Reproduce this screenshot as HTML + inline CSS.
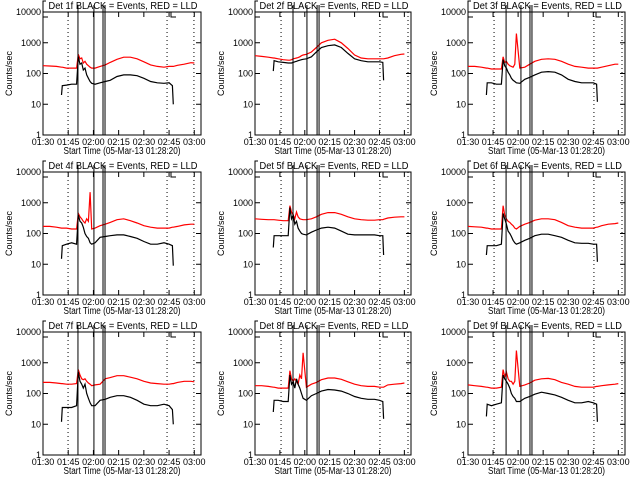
<!DOCTYPE html>
<html><head><meta charset="utf-8"><style>
html,body{margin:0;padding:0;background:#fff;}
svg{display:block;font-family:"Liberation Sans",sans-serif;}
</style></head><body>
<svg id="c" width="640" height="480" xmlns="http://www.w3.org/2000/svg"></svg>
<script>
const times=[0,4,8,11,11.5,14,17,20,21,22,23,24,25,26,27,28,29,31,34,37,40,44,48,52,56,60,64,68,72,75,77,77.5,80,84,88,90];
const n=null;
const red1=[180,175,170,160,160,150,150,150,420,300,320,220,250,200,180,160,150,150,170,190,230,290,340,340,300,240,190,170,160,170,170,170,185,200,225,220];
const blk1=[n,n,n,20,40,42,45,45,350,200,220,130,150,90,70,55,48,45,50,55,60,80,90,90,85,70,55,50,48,50,40,10,n,n,n,n];
const red2=[380,360,340,320,320,300,280,270,270,280,300,310,320,330,350,380,400,420,500,700,1000,1200,1300,1000,650,400,320,300,300,300,300,300,320,380,420,430];
const blk2=[n,n,n,120,260,240,230,220,220,220,230,240,250,260,270,280,290,300,350,500,700,800,850,700,450,300,260,240,240,240,230,60,n,n,n,n];
const red3=[170,170,160,150,150,140,140,140,350,230,250,200,180,170,160,200,2000,150,160,200,250,290,300,290,250,200,170,160,150,150,150,150,160,180,200,200];
const blk3=[n,n,n,20,50,50,45,45,280,180,150,110,90,70,60,55,50,48,65,75,90,110,115,110,90,65,55,50,50,50,45,12,n,n,n,n];
const red4=[170,170,160,150,150,150,140,140,450,350,300,250,220,300,250,2200,140,150,180,200,230,280,300,260,220,180,160,150,150,150,160,160,170,190,200,200];
const blk4=[n,n,n,15,40,45,50,45,400,250,220,160,100,80,70,50,45,50,75,80,85,90,90,80,70,55,45,45,50,45,40,9,n,n,n,n];
const red5=[300,290,280,280,280,270,260,260,800,500,400,300,500,350,300,290,280,280,300,350,420,480,480,420,350,300,280,270,270,280,280,290,320,340,350,350];
const blk5=[n,n,n,35,85,85,85,85,700,300,400,200,250,150,120,100,95,90,110,130,150,160,150,120,95,90,90,90,90,85,85,20,n,n,n,n];
const red6=[170,165,160,150,150,140,140,140,800,400,300,250,230,200,180,150,140,170,200,230,270,300,300,280,230,180,160,150,150,150,160,160,180,200,210,220];
const blk6=[n,n,n,20,40,40,40,45,450,300,200,120,100,80,60,50,45,50,60,70,85,95,95,85,75,60,50,48,48,45,45,12,n,n,n,n];
const red7=[230,230,220,210,210,200,200,210,600,400,300,280,300,250,220,200,180,190,200,300,330,380,380,340,300,250,220,210,200,200,210,210,230,250,250,240];
const blk7=[n,n,n,12,35,35,35,40,500,250,200,150,200,100,70,50,40,40,60,65,75,85,85,75,60,45,40,40,45,40,30,10,n,n,n,n];
const red8=[180,180,170,160,160,150,150,150,550,300,250,300,250,200,400,300,2100,160,200,230,280,320,320,290,240,200,180,170,170,160,160,160,190,200,210,220];
const blk8=[n,n,n,25,60,60,55,55,400,200,250,150,300,200,150,100,70,60,85,100,120,135,130,120,100,80,70,65,65,60,55,15,n,n,n,n];
const red9=[190,180,170,160,160,150,150,160,600,350,500,300,250,250,200,250,2500,170,190,220,270,300,310,280,230,200,170,160,160,160,170,170,180,190,200,210];
const blk9=[n,n,n,18,45,40,45,50,400,300,250,200,150,100,80,70,55,55,70,80,95,110,100,90,75,60,50,50,55,50,45,12,n,n,n,n];
const reds=[red1,red2,red3,red4,red5,red6,red7,red8,red9];
const blks=[blk1,blk2,blk3,blk4,blk5,blk6,blk7,blk8,blk9];
const solidTimes=[[20.8,30.3,35.7,36.9],[22.9,31.3,37.4,38.6],[22.8,31.7,37.1,38.3]];
const dottedTimes=[[14.9,73.8,89.8],[15.7,75.3,92.2],[15.6,75.4,92.2]];
const xTickLabels=["01:30","01:45","02:00","02:15","02:30","02:45","03:00"];
const xTickMins=[0,15,30,45,60,75,90];
const yTickLabels=["1","10","100","1000","10000"];
const yTickVals=[1,10,100,1000,10000];
const detNames=["1f","2f","3f","4f","5f","6f","7f","8f","9f"];

const NS="http://www.w3.org/2000/svg";
const svg=document.getElementById('c');
function mk(tag,attrs,parent){const e=document.createElementNS(NS,tag);for(const k in attrs)e.setAttribute(k,attrs[k]);(parent||svg).appendChild(e);return e;}
const colX=[[43,201],[255,411],[468,625]];
const rowY=[[12,135],[172,295],[332,455]];
const TMAX=94;

for(let p=0;p<9;p++){
  const col=p%3,row=Math.floor(p/3);
  const [x0,x1]=colX[col],[y0,y1]=rowY[row];
  const xs=t=>x0+(t/TMAX)*(x1-x0);
  const ys=v=>y1-(Math.log10(v)/4)*(y1-y0);
  const g=mk('g',{});
  
  
  const tt=mk('text',{x:(x0+x1)/2+1,y:y0-3,'font-size':10,'text-anchor':'middle',textLength:149,lengthAdjust:'spacingAndGlyphs'},g);
  tt.textContent='Det '+detNames[p]+' BLACK = Events, RED = LLD';
  
  
  const br=mk('path',{d:`M${x0} ${y0}V${y0-11}H${x0+3} M${x0} ${y0+5}H${x0+5} M${x0+128} ${y0}V${y0+5}H${x0+133}`,stroke:'#000',fill:'none','stroke-width':1},g);
  
  
  const bx=mk('rect',{x:x0,y:y0,width:x1-x0,height:y1-y0,fill:'none',stroke:'#000','stroke-width':1},g);
  
  
  yTickVals.forEach((v,i)=>{
    const y=ys(v);
    mk('path',{d:`M${x0} ${y}h5M${x1} ${y}h-5`,stroke:'#000'},g);
    const tl=mk('text',{x:x0-2,y:y+3,'font-size':9,'text-anchor':'end'},g);
    tl.textContent=yTickLabels[i];
    
    
  });
  xTickMins.forEach((m,i)=>{
    const x=xs(m);
    mk('path',{d:`M${x} ${y1}v-5M${x} ${y0}v5`,stroke:'#000'},g);
    const tl=mk('text',{x:x,y:y1+10,'font-size':9,'text-anchor':'middle'},g);
    tl.textContent=xTickLabels[i];
    
    
  });
  const xl=mk('text',{x:(x0+x1)/2,y:y1+19,'font-size':10,'text-anchor':'middle',textLength:117,lengthAdjust:'spacingAndGlyphs'},g);
  xl.textContent='Start Time (05-Mar-13 01:28:20)';
  
  
  const yl=mk('text',{x:0,y:0,'font-size':9,'text-anchor':'middle',transform:`translate(${x0-31},${(y0+y1)/2}) rotate(-90)`},g);
  yl.textContent='Counts/sec';
  
  
  dottedTimes[col].forEach(t=>{
    const l=mk('line',{x1:xs(t),x2:xs(t),y1:y0,y2:y1,stroke:'#000','stroke-dasharray':'1 3'},g);
    
    
  });
  [[reds[p],'#ff0000','red-lld-series'],[blks[p],'#000','black-events-series']].forEach(([arr,c,name])=>{
    let d='';let pen=false;
    arr.forEach((v,i)=>{if(v==null){pen=false;return;}d+=(pen?'L':'M')+xs(times[i]).toFixed(1)+' '+ys(v).toFixed(1);pen=true;});
    const pl=mk('path',{d:d,stroke:c,fill:'none','stroke-width':1.2},g);
    
    
  });
  solidTimes[col].forEach(t=>{
    const l=mk('line',{x1:xs(t),x2:xs(t),y1:y0-7,y2:y1,stroke:'#000','stroke-width':1},g);
    
    
  });
}
</script>
</body></html>
